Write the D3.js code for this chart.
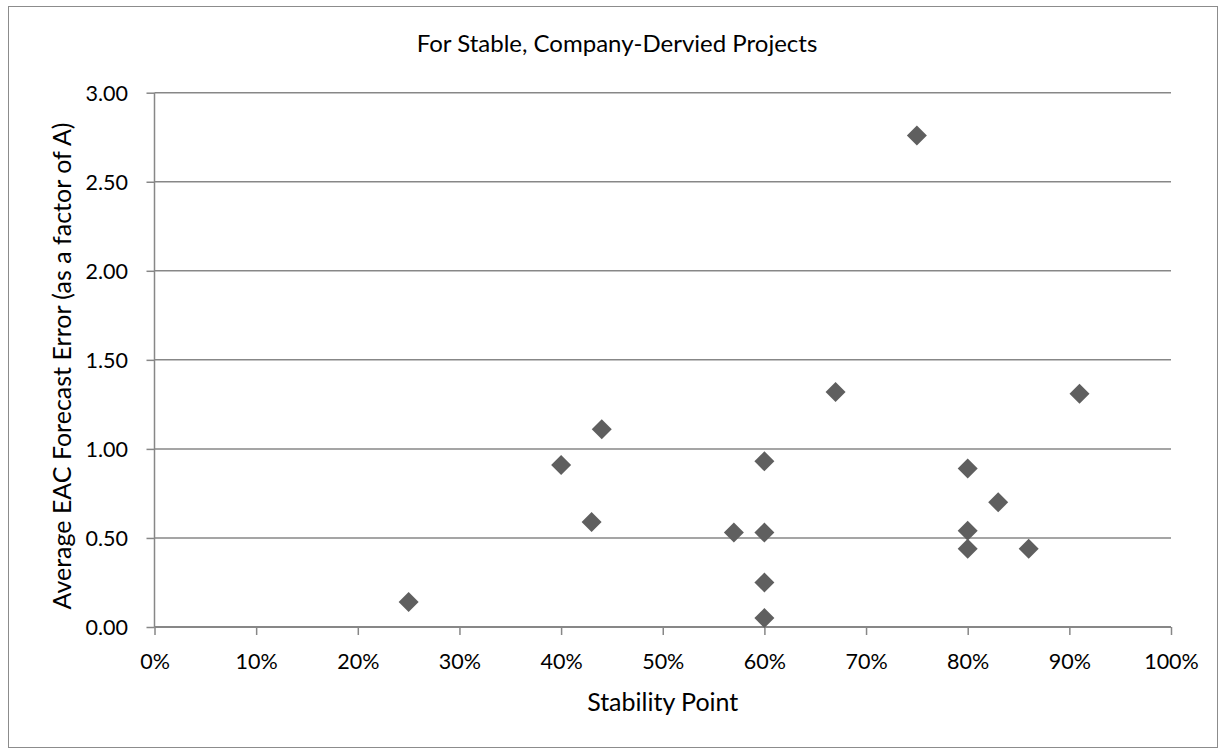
<!DOCTYPE html>
<html>
<head>
<meta charset="utf-8">
<script src="https://cdn.jsdelivr.net/npm/d3@7"></script>
<style>
  html, body { margin: 0; padding: 0; background: #fff; }
  svg text { font-family: Lato, "Open Sans", sans-serif; fill: #000; }
</style>
</head>
<body>
<svg id="chart" width="1225" height="750"></svg>
<script>
// Stability point (fraction of project complete) for each project
const stabilityPoint = [0.25, 0.40, 0.43, 0.44, 0.57, 0.60, 0.60, 0.60, 0.60, 0.67, 0.75, 0.80, 0.80, 0.80, 0.83, 0.86, 0.91];
// Average EAC forecast error, as a factor of actual
const forecastError = [0.14, 0.91, 0.59, 1.11, 0.53, 0.93, 0.53, 0.25, 0.05, 1.32, 2.76, 0.89, 0.54, 0.44, 0.70, 0.44, 1.31];

const xTicks = [0, 0.1, 0.2, 0.3, 0.4, 0.5, 0.6, 0.7, 0.8, 0.9, 1.0];
const yTicks = [0, 0.5, 1.0, 1.5, 2.0, 2.5, 3.0];

const titleText = "For Stable, Company-Dervied Projects";
const xTitle = "Stability Point";
const yTitle = "Average EAC Forecast Error (as a factor of A)";

const svg = d3.select("#chart");
const plot = { left: 154.5, right: 1171, top: 92.7, bottom: 627 };

// outer chart border
svg.append("rect")
  .attr("x", 8.5).attr("y", 6.5)
  .attr("width", 1209).attr("height", 741)
  .attr("fill", "#fff").attr("stroke", "#8c8c8c").attr("stroke-width", 1);

const x = d3.scaleLinear().domain([0, 1]).range([plot.left, plot.right]);
const y = d3.scaleLinear().domain([0, 3]).range([plot.bottom, plot.top]);

// horizontal gridlines
svg.append("g")
  .selectAll("line")
  .data(yTicks.filter(v => v > 0))
  .join("line")
  .attr("x1", plot.left).attr("x2", plot.right)
  .attr("y1", d => y(d)).attr("y2", d => y(d))
  .attr("stroke", "#878787").attr("stroke-width", 1.5);

// y axis
const yAxis = svg.append("g")
  .attr("transform", `translate(${plot.left},0)`)
  .call(d3.axisLeft(y).tickValues(yTicks).tickFormat(d3.format(".2f")).tickSize(8).tickPadding(18.5));
yAxis.select(".domain").attr("stroke", "#878787").attr("stroke-width", 1.5).attr("d", `M0,${plot.top}V${plot.bottom}`);
yAxis.selectAll(".tick line").attr("stroke", "#878787").attr("stroke-width", 1.5);
yAxis.selectAll(".tick text").attr("font-size", 21.5).attr("fill", "#000").attr("dy", "0.36em");

// x axis
const xAxis = svg.append("g")
  .attr("transform", `translate(0,${plot.bottom})`)
  .call(d3.axisBottom(x).tickValues(xTicks).tickFormat(d3.format(".0%")).tickSize(8).tickPadding(19));
xAxis.select(".domain").attr("stroke", "#878787").attr("stroke-width", 2).attr("d", `M${plot.left},0H${plot.right}`);
xAxis.selectAll(".tick line").attr("stroke", "#878787").attr("stroke-width", 1.5);
xAxis.selectAll(".tick text").attr("font-size", 21.5).attr("fill", "#000");

// data markers
const diamond = d3.symbol().type(d3.symbolSquare).size(200);
svg.append("g")
  .selectAll("path")
  .data(stabilityPoint.map((s, i) => [s, forecastError[i]]))
  .join("path")
  .attr("d", diamond)
  .attr("transform", d => `translate(${x(d[0])},${y(d[1])}) rotate(45)`)
  .attr("fill", "#5f5f5f");

// titles
svg.append("text")
  .attr("x", 617).attr("y", 52)
  .attr("text-anchor", "middle").attr("font-size", 24)
  .text(titleText);

svg.append("text")
  .attr("x", (plot.left + plot.right) / 2).attr("y", 711)
  .attr("text-anchor", "middle").attr("font-size", 25)
  .text(xTitle);

svg.append("text")
  .attr("transform", `translate(71,366) rotate(-90)`)
  .attr("text-anchor", "middle").attr("font-size", 25)
  .text(yTitle);
</script>
</body>
</html>
